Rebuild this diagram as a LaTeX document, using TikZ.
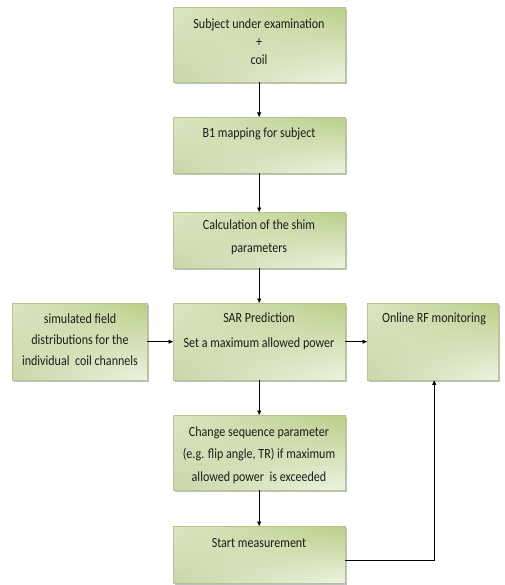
\documentclass[tikz,border=0pt]{standalone}
\usepackage{fontspec}
\setmainfont[FakeStretch=0.86]{Carlito}
\usetikzlibrary{arrows.meta,shadows,shadings}
\definecolor{gUR}{HTML}{BACE88}
\definecolor{gUL}{HTML}{DCE6C3}
\definecolor{gLL}{HTML}{C9D6A7}
\definecolor{gLR}{HTML}{EEF3E3}
\definecolor{gBorder}{HTML}{B5C68A}
\definecolor{txtc}{HTML}{1C1C1C}
\begin{document}
\begin{tikzpicture}[x=1pt,y=-1pt,
  box/.style={rectangle, draw=gBorder, line width=0.4pt, inner sep=0pt, anchor=north west,
    upper right=gUR, upper left=gUL, lower left=gLL, lower right=gLR,
    drop shadow={shadow xshift=1.5pt, shadow yshift=-2pt, fill=black!50, opacity=0.5}},
  txt/.style={anchor=base, align=center, inner sep=0pt, text=txtc, font=\fontsize{14}{18}\selectfont},
  conn/.style={draw=black, line width=0.7pt, -{Triangle[length=4.5pt,width=4pt]}}]
\useasboundingbox (0,0) rectangle (504,585);
% boxes
\node[box, minimum width=172pt, minimum height=75pt] (b1) at (173,7) {};
\node[box, minimum width=172pt, minimum height=56pt] (b2) at (173,117) {};
\node[box, minimum width=172pt, minimum height=56pt] (b3) at (173,212) {};
\node[box, minimum width=172pt, minimum height=77pt] (sar) at (173,303) {};
\node[box, minimum width=135pt, minimum height=77pt] (left) at (12,303) {};
\node[box, minimum width=131pt, minimum height=77pt] (right) at (367,303) {};
\node[box, minimum width=172pt, minimum height=75pt] (chg) at (173,415) {};
\node[box, minimum width=172pt, minimum height=57pt] (start) at (173,526) {};
% texts (base anchor = baseline of last line)
\node[txt, font=\fontsize{14}{18}\selectfont] (t1) at (259,65) {Subject under examination\\+\\coil};
\node[txt] (t2) at (259,138) {B1 mapping for subject};
\node[txt, font=\fontsize{14}{23}\selectfont] (t3) at (259,252) {Calculation of the shim\\parameters};
\node[txt, font=\fontsize{14}{25}\selectfont] (t4) at (259,347) {SAR Prediction\\Set a maximum allowed power};
\node[txt, font=\fontsize{14}{21}\selectfont] (t5) at (80,365) {simulated field\\distributions for the\\individual\ \ coil channels};
\node[txt] (t6) at (434,322) {Online RF monitoring};
\node[txt, font=\fontsize{14}{22.5}\selectfont] (t7) at (259,481) {Change sequence parameter\\(e.g. flip angle, TR) if maximum\\allowed power\ \ is exceeded};
\node[txt] (t8) at (259,547) {Start measurement};
% connectors
\draw[conn] (b1) -- (b2);
\draw[conn] (b2) -- (b3);
\draw[conn] (b3) -- (sar);
\draw[conn] (sar) -- (chg);
\draw[conn] (chg) -- (start);
\draw[conn] (left) -- (sar);
\draw[conn] (sar) -- (right);
\coordinate (turn) at ([yshift=-5.5pt]start.east);
\draw[conn] (turn) -| ([xshift=1.5pt]right.south);
\end{tikzpicture}
\end{document}
